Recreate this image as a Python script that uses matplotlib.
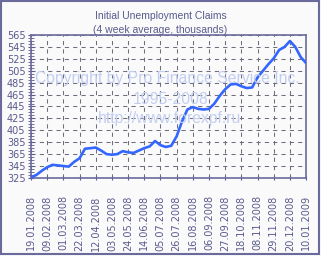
import matplotlib
matplotlib.use('Agg')
import matplotlib.pyplot as plt
import matplotlib.dates as mdates
from matplotlib.patches import Rectangle
from matplotlib.ticker import MultipleLocator
import pandas as pd

# weekly 4-week average of initial claims, thousands
dates = pd.date_range('2008-01-19', periods=52, freq='7D')
claims = [326, 330, 337, 343, 347, 346, 345, 344, 352, 358,
          374, 375, 376, 371, 365, 364, 365, 370, 368, 367,
          371, 375, 378, 387, 380, 377, 379, 395, 420, 440,
          444, 441, 440, 441, 450, 463, 474, 482, 483, 479,
          476, 477, 494, 505, 516, 526, 540, 545, 555, 545,
          528, 518]
tick_dates = dates[::3]
y_ticks = list(range(325, 566, 20))

txt = '#5a5a8e'
frame = '#6a6a9c'

fig = plt.figure(figsize=(3.21, 2.56), dpi=100, facecolor='#fafafa')
ax = fig.add_axes([0.0966, 0.305, 0.857, 0.558])
ax.set_facecolor('#fafafa')

ax.plot(dates, claims, color='#3366ff', lw=1.9, zorder=3)

ax.set_ylim(325, 565)
ax.set_xlim(dates[0], dates[-1])
ax.set_yticks(y_ticks)
ax.yaxis.set_minor_locator(MultipleLocator(5))
ax.set_xticks(tick_dates)
ax.xaxis.set_major_formatter(mdates.DateFormatter('%d.%m.%Y'))
ax.tick_params(axis='x', labelrotation=90, labelsize=7, colors=txt, length=3, direction='inout', pad=11)
ax.tick_params(axis='y', labelsize=7, colors=txt, length=4, direction='inout', pad=2)
ax.tick_params(axis='y', which='minor', length=4, direction='inout', color=txt)

ax.grid(True, color='#6e6e7e', ls=(0, (4, 4)), lw=0.75)
for s in ax.spines.values():
    s.set_color(frame)
    s.set_linewidth(1.2)

fig.text(0.5, 1 - 16/256, 'Initial Unemployment Claims', ha='center', va='center',
         color=txt, fontsize=7.5, family='Liberation Sans')
fig.text(0.5, 1 - 30/256, '(4 week average, thousands)', ha='center', va='center',
         color=txt, fontsize=7.5, family='Liberation Sans')

wm = '#c2cef2'
fig.text(167.5/321, 1 - 78/256, 'Copyright by Pro Finance Service Inc.', ha='center', va='center',
         color=wm, fontsize=11.3, family='Liberation Sans', zorder=1)
fig.text(170.5/321, 1 - 100/256, '1995-2008', ha='center', va='center',
         color=wm, fontsize=11.3, family='Liberation Sans', zorder=1)
fig.text(169.5/321, 1 - 119/256, 'http://www.forexpf.ru', ha='center', va='center',
         color=wm, fontsize=11.3, family='Liberation Sans', zorder=1)

fig.patches.append(Rectangle((0.004, 0.006), 0.99, 0.99, transform=fig.transFigure,
                             fill=False, edgecolor=frame, lw=1.5))

fig.savefig('out.png', dpi=100, facecolor=fig.get_facecolor())
